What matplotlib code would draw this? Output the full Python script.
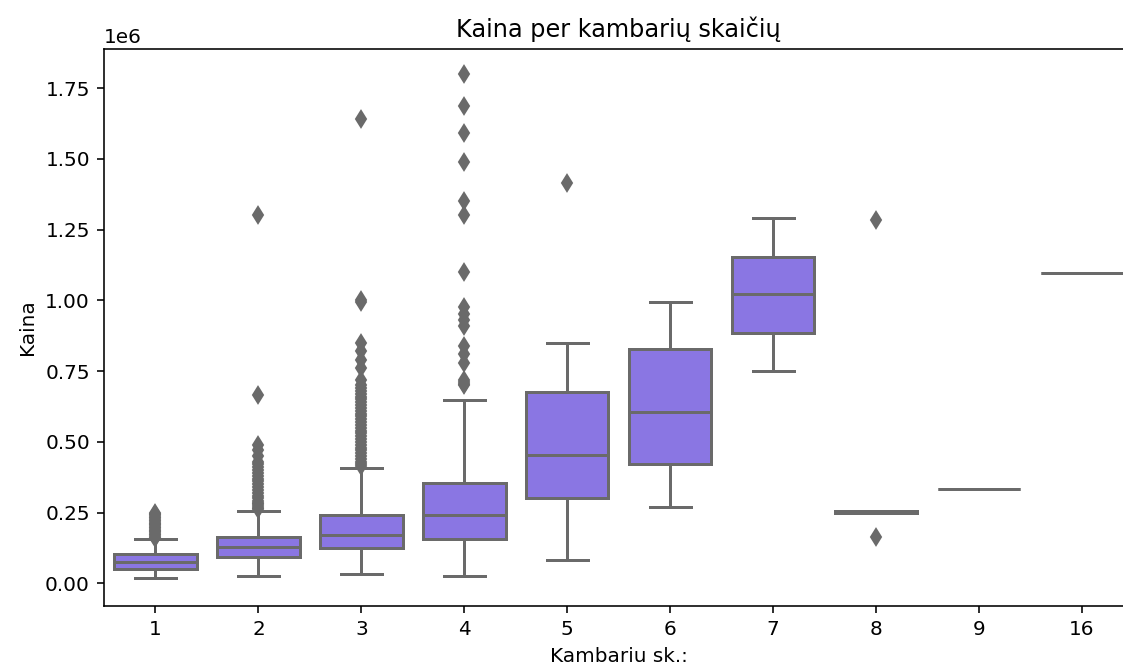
import matplotlib

matplotlib.use("Agg")
import matplotlib.pyplot as plt
import numpy as np

# price values in millions
rooms = ["1", "2", "3", "4", "5", "6", "7", "8", "9", "16"]
q1 = [0.049, 0.094, 0.126, 0.155, 0.300, 0.423, 0.885, 0.249, 0.335, 1.095]
median = [0.075, 0.127, 0.171, 0.241, 0.453, 0.604, 1.021, 0.253, 0.335, 1.095]
q3 = [0.102, 0.165, 0.241, 0.353, 0.677, 0.827, 1.153, 0.257, 0.335, 1.095]
whisker_low = [0.018, 0.026, 0.032, 0.026, 0.082, 0.270, 0.749, 0.249, 0.335, 1.095]
whisker_high = [0.155, 0.256, 0.408, 0.647, 0.850, 0.994, 1.291, 0.257, 0.335, 1.095]
fliers = [
    [0.16, 0.165, 0.17, 0.175, 0.18, 0.185, 0.19, 0.195, 0.20, 0.205,
     0.21, 0.215, 0.22, 0.225, 0.23, 0.235, 0.24, 0.245, 0.25],
    [0.262, 0.268, 0.275, 0.28, 0.285, 0.29, 0.30, 0.31, 0.32, 0.33,
     0.34, 0.35, 0.36, 0.37, 0.38, 0.39, 0.40, 0.41, 0.42, 0.43,
     0.45, 0.47, 0.49, 0.665, 1.30],
    [0.415, 0.42, 0.43, 0.44, 0.45, 0.46, 0.47, 0.48, 0.49, 0.50,
     0.51, 0.52, 0.53, 0.54, 0.55, 0.56, 0.57, 0.58, 0.59, 0.60,
     0.61, 0.62, 0.63, 0.64, 0.65, 0.66, 0.67, 0.68, 0.69, 0.70,
     0.72, 0.76, 0.79, 0.82, 0.85, 0.995, 1.0, 1.64],
    [0.70, 0.705, 0.71, 0.72, 0.78, 0.81, 0.84, 0.91, 0.93, 0.95,
     0.975, 1.10, 1.30, 1.35, 1.49, 1.59, 1.685, 1.80],
    [1.415],
    [],
    [],
    [0.165, 1.285],
    [],
    [],
]

box_color = "#8a76e3"
line_color = "#6a6a6a"
lw = 1.5

plt.rcParams["font.family"] = "DejaVu Sans"
plt.rcParams["font.size"] = 10

fig = plt.figure(figsize=(1123 / 144, 666 / 144), dpi=144)
ax = fig.add_axes([104 / 1123, 60 / 666, 1029.5 / 1123, 557 / 666])

stats = []
for i in range(len(rooms)):
    stats.append(
        {
            "label": rooms[i],
            "q1": q1[i] * 1e6,
            "med": median[i] * 1e6,
            "q3": q3[i] * 1e6,
            "whislo": whisker_low[i] * 1e6,
            "whishi": whisker_high[i] * 1e6,
            "fliers": np.array(fliers[i]) * 1e6,
        }
    )

ax.bxp(
    stats,
    positions=range(len(rooms)),
    widths=0.8,
    patch_artist=True,
    boxprops=dict(facecolor=box_color, edgecolor=line_color, linewidth=lw),
    medianprops=dict(color=line_color, linewidth=lw),
    whiskerprops=dict(color=line_color, linewidth=lw),
    capprops=dict(color=line_color, linewidth=lw),
    flierprops=dict(
        marker="d",
        markersize=6,
        markerfacecolor=line_color,
        markeredgecolor=line_color,
        linestyle="none",
    ),
)

ax.set_xlim(-0.5, len(rooms) - 0.5)
ax.set_ylim(-0.080e6, 1.888e6)
ax.set_yticks(np.arange(0, 1.76e6, 0.25e6))
ax.set_title("Kaina per kambarių skaičių", fontsize=12)
ax.set_xlabel("Kambariu sk.:")
ax.set_ylabel("Kaina")

fig.savefig("out.png", dpi=144)
